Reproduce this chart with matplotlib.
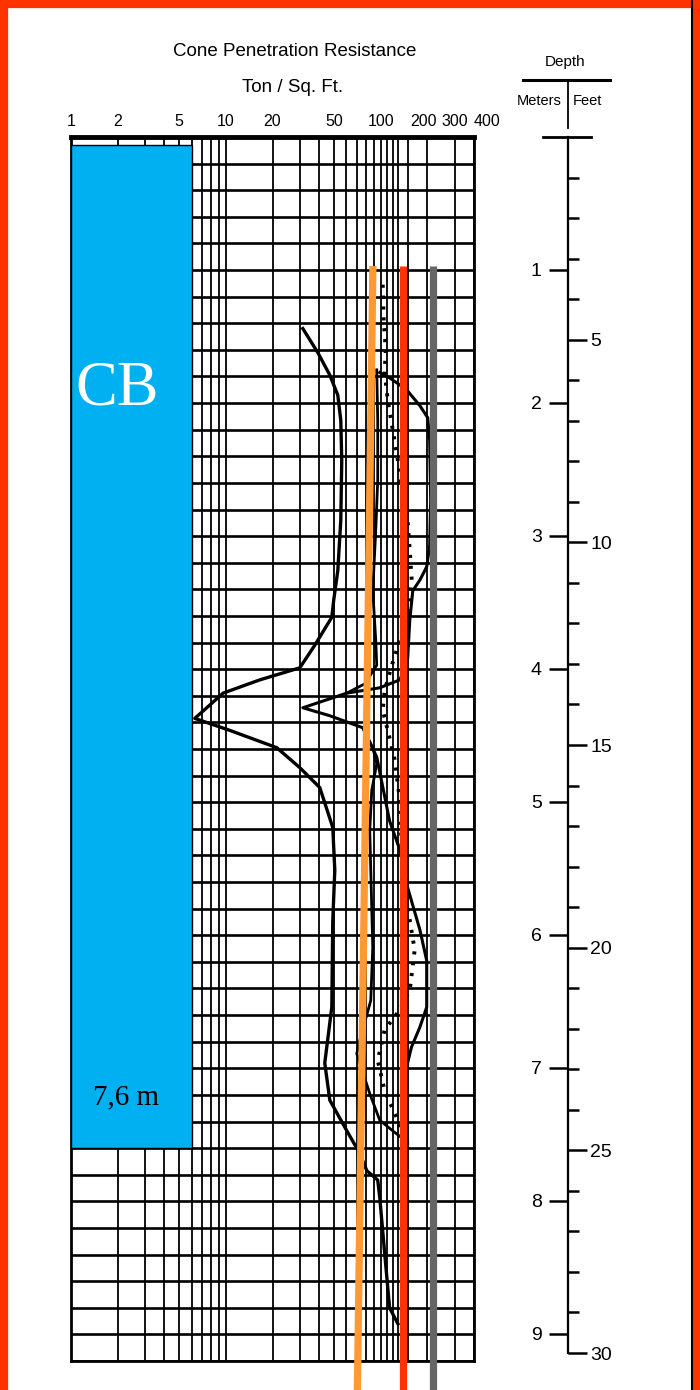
import numpy as np
import matplotlib
matplotlib.use("Agg")
import matplotlib.pyplot as plt
from matplotlib.patches import Rectangle
from matplotlib.lines import Line2D
from matplotlib.transforms import blended_transform_factory, ScaledTranslation

SANS = ["Liberation Sans", "DejaVu Sans"]
SERIF = ["Liberation Serif", "DejaVu Serif"]

# x axis (cone resistance, ton / sq ft)
major_x = [1, 2, 5, 10, 20, 50, 100, 200, 300, 400]
minor_x = [3, 4, 6, 7, 8, 9, 30, 40, 60, 70, 80, 90, 110, 120, 130, 150]
x_labels = ["1", "2", "5", "10", "20", "50", "100", "200", "300", "400"]

# depth scale
meters = [1, 2, 3, 4, 5, 6, 7, 8, 9]
feet_major = [5, 10, 15, 20, 25, 30]
feet_minor = [f for f in range(1, 30) if f % 5]

# outer-left trace (solid)
left_depth = [1.44, 1.62, 1.79, 1.94, 2.13, 2.43, 2.88, 3.26, 3.48, 3.61, 3.82,
              3.99, 4.08, 4.18, 4.37, 4.46, 4.59, 4.74, 4.89, 5.19, 5.51, 5.89,
              6.54, 6.96, 7.24, 7.47, 7.64, 7.77, 7.84, 7.97, 8.39, 8.80, 8.92]
left_qc = [31.4, 39.2, 46.9, 52.8, 55.2, 56.0, 55.2, 52.8, 49.7, 48.3, 37.5,
           30.0, 16.6, 9.6, 6.3, 10.6, 21.3, 30.0, 40.4, 49.0, 50.5, 49.0,
           48.3, 43.5, 46.9, 60.4, 73.2, 81.3, 95.6, 98.5, 106, 114, 129]

# outer-right trace (solid)
right_depth = [1.77, 1.81, 1.90, 2.02, 2.11, 2.28, 2.73, 3.07, 3.23, 3.33, 3.41,
               3.63, 3.93, 4.08, 4.14, 4.18, 4.29, 4.35, 4.44, 4.66, 5.14, 5.36,
               5.64, 5.96, 6.19, 6.54, 6.69, 6.84, 6.96, 7.24, 7.56]
right_qc = [98.5, 114, 147, 179, 201, 207, 210, 207, 198, 179, 161,
            154, 149, 133, 98.5, 60.4, 31.4, 46.9, 76.5, 94.2, 114, 133,
            149, 179, 198, 198, 179, 158, 149, 147, 149]

# inner trace (solid, broken at the spike)
mid_depth = [1.75, 2.13, 2.58, 2.96, 3.41, 3.78, 3.97, 4.11, 4.18, np.nan,
             4.44, 4.59, 4.71, 4.91, 5.21, 5.51, 6.09, 6.49, 6.79, 6.89,
             7.19, 7.39, 7.47, 7.54]
mid_qc = [94.2, 95.6, 95.6, 92.8, 88.8, 92.8, 94.2, 78.9, 60.4, np.nan,
          76.5, 88.8, 94.2, 87.5, 84.9, 86.2, 88.8, 86.2, 73.2, 70.0,
          84.9, 98.5, 119.5, 143]

# dotted trace
dot_depth = [1.11, 1.38, 1.60, 1.77, 1.98, 2.20, 2.43, 2.65, 2.88, 3.11, 3.33,
             3.56, 3.78, 3.97, 4.16, 4.31, 4.46, 4.68, 4.99, 5.36, 5.66, 5.89,
             6.11, 6.41, 6.56, 6.71, 6.94, 7.17, 7.39, 7.56]
dot_qc = [103, 104.5, 107.7, 106, 111, 119.5, 129, 136.6, 149, 154, 158.5,
          149, 133, 118, 106, 103, 111, 123, 133, 136.6, 143, 154,
          165.6, 154, 133, 106, 95.6, 106, 129, 143]

# reference lines: (depth_top, depth_bottom), (q_top, q_bottom)
ref_depth = [0.97, 9.5]
orange_q = [89, 70.5]
red_q = [139, 139]
gray_q = [216, 216]

# CB column
cb_x = [1, 6]
cb_depth = [0.06, 7.6]

W, H = 700, 1390
fig = plt.figure(figsize=(7, 13.9), dpi=100)

ax = fig.add_axes([71 / W, 1 - 1361 / H, (474 - 71) / W, (1361 - 137) / H])
ax.set_xscale("log")
ax.set_xlim(1, 400)
ax.set_ylim(9.2, 0)

ax.set_xticks(major_x)
ax.set_xticklabels(x_labels, family=SANS, fontsize=11.5)
ax.set_xticks(minor_x, minor=True)
ax.xaxis.set_minor_formatter(plt.NullFormatter())
ax.xaxis.set_ticks_position("top")
ax.tick_params(axis="x", which="both", length=0, pad=6)
for lab in ax.get_xticklabels():
    if lab.get_text() == "400":
        lab.set_horizontalalignment("left")
    if lab.get_text() == "200":
        # nudge a little left so it clears "300"
        lab.set_transform(lab.get_transform()
                          + ScaledTranslation(-3 / 72, 0, fig.dpi_scale_trans))
ax.set_yticks(np.arange(0, 9.21, 0.2))
ax.set_yticklabels([])
ax.tick_params(axis="y", length=0)

ax.grid(axis="x", which="both", color="black", lw=1.3)
ax.grid(axis="y", color="black", lw=1.9)
for s in ax.spines.values():
    s.set_linewidth(2)
    s.set_color("black")
ax.spines["top"].set_linewidth(3.5)

# CB column block
ax.add_patch(Rectangle((cb_x[0], cb_depth[0]), cb_x[1] - cb_x[0],
                       cb_depth[1] - cb_depth[0], facecolor="#00B0F0",
                       edgecolor="black", lw=1, zorder=3))
ax.text(1.98, 1.9, "CB", color="white", family=SERIF, fontsize=45,
        ha="center", va="center", zorder=4)
ax.text(2.26, 7.22, "7,6 m", color="black", family=SERIF, fontsize=21,
        ha="center", va="center", zorder=4)

# traces
ax.plot(left_qc, left_depth, color="black", lw=2.4, zorder=4,
        solid_joinstyle="round")
ax.plot(right_qc, right_depth, color="black", lw=2.2, zorder=4,
        solid_joinstyle="round")
ax.plot(mid_qc, mid_depth, color="black", lw=2.0, zorder=4)
ax.plot(dot_qc, dot_depth, color="black", lw=2.8, zorder=4,
        linestyle=(0, (0.8, 2.0)))

# reference lines
for q, c in [(orange_q, "#FF9933"), (red_q, "#FF3300"), (gray_q, "#666666")]:
    ax.plot(q, ref_depth, color=c, lw=5.2, zorder=6, clip_on=False,
            solid_capstyle="butt")

# titles
fig.text(295 / W, 1 - 52 / H, "Cone Penetration Resistance", family=SANS,
         fontsize=13.5, ha="center", va="center")
fig.text(293 / W, 1 - 87 / H, "Ton / Sq. Ft.", family=SANS,
         fontsize=13.5, ha="center", va="center")

# depth scale (meters left, feet right)
ax_m = fig.add_axes([568 / W, 1 - 1353 / H, 0.0001, (1353 - 137) / H])
ax_m.set_ylim(9.144, 0)
ax_m.set_xticks([])
for k in ["top", "bottom", "right"]:
    ax_m.spines[k].set_visible(False)
ax_m.spines["left"].set_linewidth(1.6)
ax_m.set_yticks(meters)
ax_m.set_yticklabels([str(m) for m in meters], family=SANS, fontsize=14)
ax_m.tick_params(axis="y", direction="out", length=14, width=1.8, pad=5)

ax_f = ax_m.twinx()
ax_f.set_ylim(30, 0)
for k in ["top", "bottom", "right", "left"]:
    ax_f.spines[k].set_visible(False)
ax_f.set_yticks(feet_major)
ax_f.set_yticklabels([str(f) for f in feet_major], family=SANS, fontsize=14)
ax_f.set_yticks(feet_minor, minor=True)
ax_f.tick_params(axis="y", which="major", direction="out", length=14,
                 width=1.8, pad=2)
ax_f.tick_params(axis="y", which="minor", direction="out", length=8,
                 width=1.8)

cap = blended_transform_factory(fig.transFigure, ax_m.transData)
ax_m.add_line(Line2D([543 / W, 591 / W], [0, 0], transform=cap,
                     color="black", lw=2, clip_on=False))

# depth header
fig.text(565 / W, 1 - 62 / H, "Depth", family=SANS, fontsize=11,
         ha="center", va="center")
fig.add_artist(Line2D([523 / W, 610 / W], [1 - 80 / H, 1 - 80 / H],
                      color="black", lw=2.2))
fig.add_artist(Line2D([568 / W, 568 / W], [1 - 80 / H, 1 - 128 / H],
                      color="black", lw=1.3))
fig.text(539 / W, 1 - 101 / H, "Meters", family=SANS, fontsize=10.5,
         ha="center", va="center")
fig.text(587 / W, 1 - 101 / H, "Feet", family=SANS, fontsize=10.5,
         ha="center", va="center")

# page frame
fig.add_artist(Line2D([692 / W, 692 / W], [0, 1], color="black", lw=1.5))
fig.add_artist(Rectangle((0, -0.05), 1, 1.05, transform=fig.transFigure,
                         fill=False, edgecolor="#FF3300", lw=11))

fig.savefig("out.png", dpi=100)
